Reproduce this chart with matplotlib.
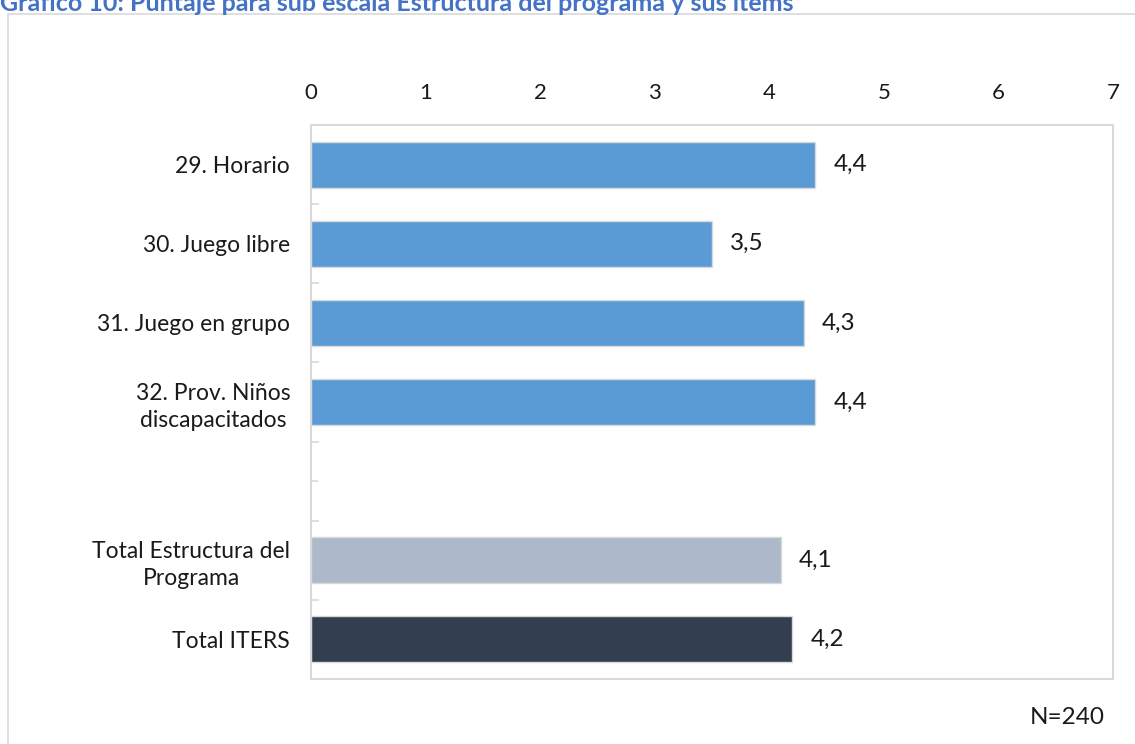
import numpy as np
import matplotlib.pyplot as plt
from matplotlib.patches import Rectangle

plt.rcParams['font.family'] = ['Lato', 'DejaVu Sans']

# Items of the "Estructura del programa" subscale, with a blank gap row before the totals
categories = ["29. Horario", "30. Juego libre", "31. Juego en grupo",
              "32. Prov. Niños\ndiscapacitados", "",
              "Total Estructura del\nPrograma", "Total ITERS"]
scores = [4.4, 3.5, 4.3, 4.4, None, 4.1, 4.2]
bar_colors = ["#5B9BD5", "#5B9BD5", "#5B9BD5", "#5B9BD5", None, "#ADB9CA", "#333F50"]
x_ticks = [0, 1, 2, 3, 4, 5, 6, 7]
n_label = "N=240"
title = "Gráfico 10: Puntaje para sub escala Estructura del programa y sus ítems"

W, H = 1135, 744
fig = plt.figure(figsize=(W / 100, H / 100), dpi=100)

# outer chart-area frame (runs off the right and bottom edges)
fig.patches.append(Rectangle((8 / W, -0.05), 1.2, 1 - 14 / H + 0.05,
                             transform=fig.transFigure, fill=False,
                             edgecolor="#d9d9d9", lw=1.2))

fig.text(0.0, 1 - 11 / H, title, ha="left", va="baseline",
         fontsize=18, fontweight="bold", color="#4472C4")

ax = fig.add_axes([311 / W, 1 - 679 / H, (1113 - 311) / W, (679 - 125) / H])

ypos = np.arange(len(categories))
for y, v, c in zip(ypos, scores, bar_colors):
    if v is None:
        continue
    ax.barh(y, v, height=0.58, color=c, edgecolor="#d9d9d9", lw=1.0, zorder=2)
    ax.text(v + 0.16, y, f"{v:.1f}".replace(".", ","), ha="left", va="center",
            fontsize=17.5, color="#1a1a1a")

ax.set_xlim(0, 7)
ax.set_ylim(len(categories) - 0.5, -0.5)
ax.set_xticks(x_ticks)
ax.xaxis.tick_top()
ax.tick_params(axis="x", length=0, pad=16, labelsize=16, labelcolor="#1a1a1a")

ax.set_yticks(ypos)
ax.set_yticklabels(categories)
ax.set_yticks(np.arange(len(categories) + 1) - 0.5, minor=True)
ax.tick_params(axis="y", which="both", direction="in", length=5, color="#d9d9d9",
               width=1.2, pad=15, labelsize=16.5, labelcolor="#1a1a1a")
ax.tick_params(axis="y", which="minor", length=6)
for lbl in ax.get_yticklabels():
    lbl.set_horizontalalignment("right")
    lbl.set_multialignment("center")
    lbl.set_linespacing(1.35)

for s in ax.spines.values():
    s.set_color("#d9d9d9")
    s.set_linewidth(1.5)

fig.text(1105 / W, 1 - 718 / H, n_label, ha="right", va="center",
         fontsize=17.5, color="#1a1a1a")

fig.savefig("out.png", dpi=100)
